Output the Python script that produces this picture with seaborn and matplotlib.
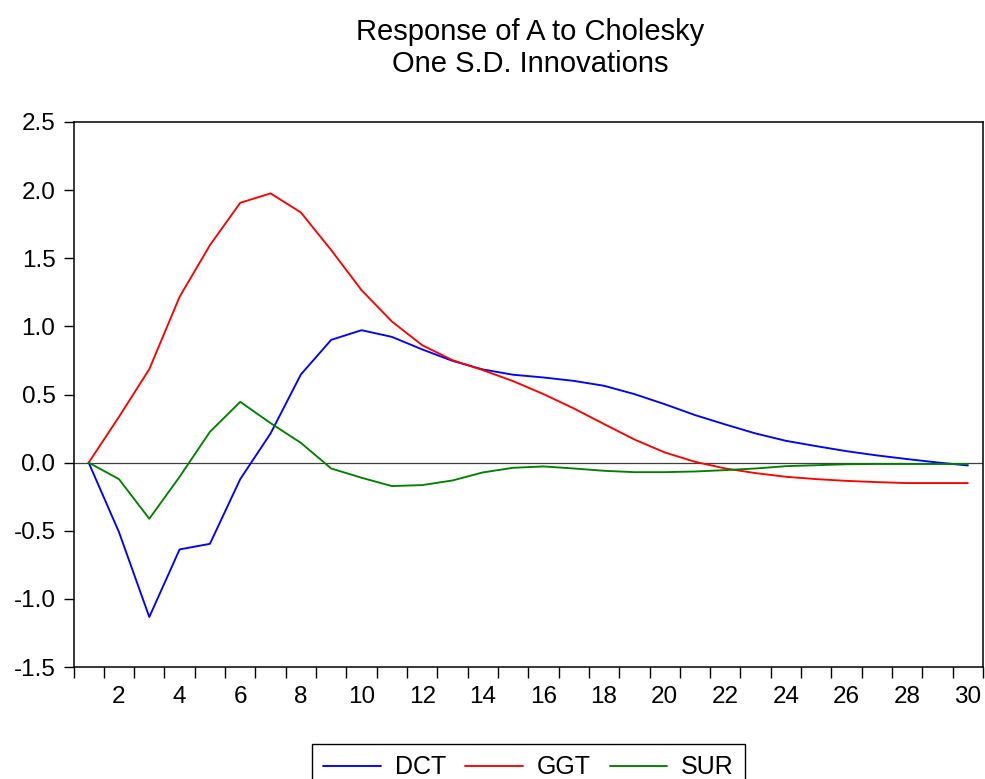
import matplotlib
matplotlib.use("Agg")
import matplotlib.pyplot as plt
from matplotlib.ticker import FixedLocator
import numpy as np
import pandas as pd
import seaborn as sns

periods = list(range(1, 31))
dct = [0.0, -0.51, -1.133, -0.637, -0.596, -0.121, 0.214, 0.647, 0.901, 0.972,
       0.923, 0.831, 0.747, 0.684, 0.645, 0.625, 0.600, 0.564, 0.503, 0.429,
       0.349, 0.280, 0.214, 0.160, 0.121, 0.084, 0.053, 0.026, 0.001, -0.021]
ggt = [0.0, 0.336, 0.686, 1.217, 1.596, 1.907, 1.976, 1.836, 1.560, 1.266,
       1.036, 0.862, 0.752, 0.679, 0.598, 0.503, 0.398, 0.283, 0.170, 0.075,
       0.006, -0.043, -0.077, -0.104, -0.121, -0.134, -0.143, -0.150, -0.150, -0.150]
sur = [0.0, -0.121, -0.412, -0.104, 0.226, 0.446, 0.290, 0.145, -0.043, -0.111,
       -0.172, -0.165, -0.131, -0.072, -0.038, -0.028, -0.043, -0.060, -0.070, -0.070,
       -0.065, -0.055, -0.043, -0.026, -0.019, -0.012, -0.010, -0.010, -0.010, -0.010]
series_names = ["DCT", "GGT", "SUR"]
colors = {"DCT": "#0000FF", "GGT": "#FF0000", "SUR": "#008000"}
title_lines = ["Response of A to Cholesky", "One S.D. Innovations"]
xtick_labels = list(range(2, 31, 2))
yticks = [-1.5, -1.0, -0.5, 0.0, 0.5, 1.0, 1.5, 2.0, 2.5]

df = pd.DataFrame({
    "period": periods * 3,
    "value": dct + ggt + sur,
    "series": ["DCT"] * 30 + ["GGT"] * 30 + ["SUR"] * 30,
})

sns.set_style("white", rc={"text.color": "black", "xtick.color": "black",
                           "ytick.color": "black", "axes.edgecolor": "black"})
plt.rcParams["font.family"] = ["Liberation Sans", "DejaVu Sans"]

fig = plt.figure(figsize=(9.85, 7.79), dpi=100)
ax = fig.add_axes([73.5 / 985, 1 - 667 / 779, (983 - 73.5) / 985, (667 - 122) / 779])

ax.axhline(0, color="#404040", lw=0.9, zorder=1)
sns.lineplot(data=df, x="period", y="value", hue="series", hue_order=series_names,
             palette=colors, lw=1.35, ax=ax, zorder=3)

ax.set_xlim(0.5, 30.5)
ax.set_ylim(-1.5, 2.5)
ax.set_xlabel("")
ax.set_ylabel("")

ax.yaxis.set_major_locator(FixedLocator(yticks))
ax.set_yticklabels([f"{v:.1f}" for v in yticks])
ax.xaxis.set_major_locator(FixedLocator(xtick_labels))
ax.set_xticklabels([str(v) for v in xtick_labels])
ax.xaxis.set_minor_locator(FixedLocator(np.arange(0.5, 31, 1.0)))

ax.tick_params(axis="y", which="major", direction="out", length=7, width=1,
               color="black", labelcolor="black", labelsize=17.5, pad=6,
               left=True, right=False)
ax.tick_params(axis="x", which="major", length=0, labelsize=17.5, pad=14,
               labelcolor="black", bottom=True)
ax.tick_params(axis="x", which="minor", direction="out", length=8, width=1,
               color="black", bottom=True, top=False)

for s in ax.spines.values():
    s.set_visible(True)
    s.set_color("black")
    s.set_linewidth(1.1)

handles, labels = ax.get_legend_handles_labels()
ax.get_legend().remove()
leg = fig.legend(handles, labels, loc="upper center", ncol=3,
                 bbox_to_anchor=(528.5 / 985, 1 - 744 / 779),
                 bbox_transform=fig.transFigure, fontsize=18, frameon=True,
                 fancybox=False, framealpha=1, edgecolor="black",
                 handlelength=2.3, handletextpad=0.56, columnspacing=0.76,
                 borderpad=0.45, borderaxespad=0)
leg.get_frame().set_linewidth(1.0)
for l in leg.get_lines():
    l.set_linewidth(1.35)

fig.text(530 / 985, 1 - 39.5 / 779, title_lines[0], ha="center", va="baseline", fontsize=21)
fig.text(530 / 985, 1 - 71.7 / 779, title_lines[1], ha="center", va="baseline", fontsize=21)

fig.savefig("out.png", dpi=100)
